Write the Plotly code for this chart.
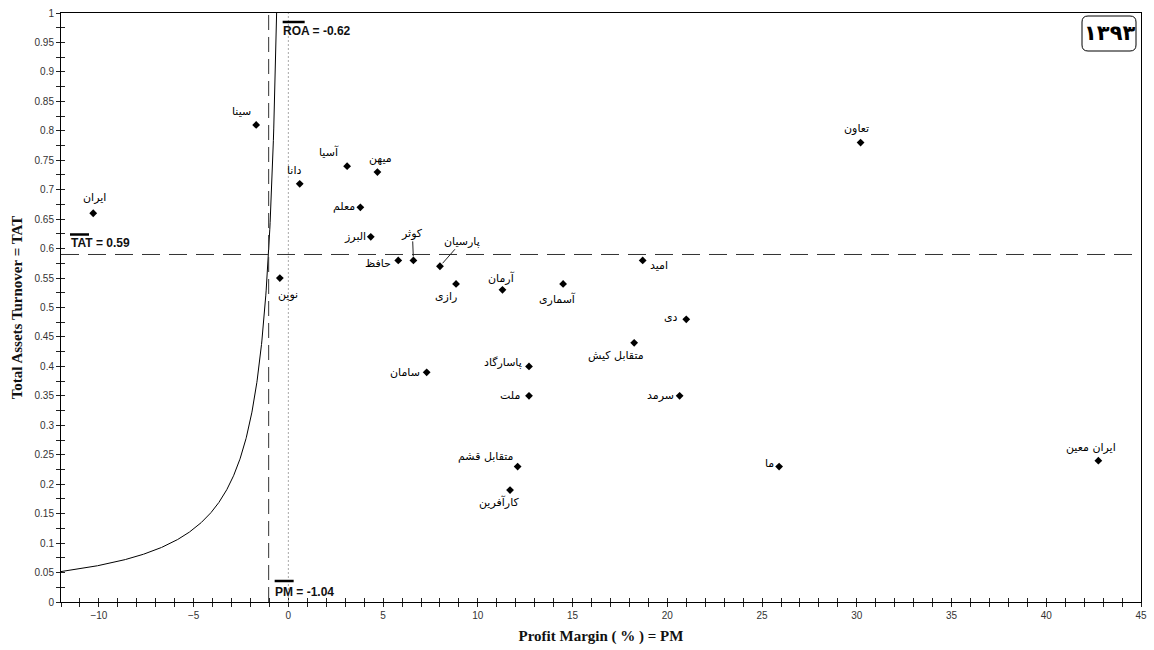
import numpy as np
import plotly.graph_objects as go

# ---------------- data ----------------
names = ["ایران", "سینا", "نوین", "دانا", "آسیا", "میهن", "معلم", "البرز",
         "حافظ", "کوثر", "پارسیان", "رازی", "آرمان", "آسماری", "امید", "دی",
         "تعاون", "متقابل کیش", "پاسارگاد", "سامان", "ملت", "سرمد",
         "متقابل قشم", "کارآفرین", "ما", "ایران معین"]
pm = [-10.3, -1.7, -0.45, 0.6, 3.1, 4.7, 3.8, 4.35,
      5.8, 6.6, 8.0, 8.85, 11.3, 14.5, 18.7, 21.0,
      30.2, 18.25, 12.7, 7.3, 12.7, 20.65,
      12.1, 11.7, 25.9, 42.75]
tat = [0.66, 0.81, 0.55, 0.71, 0.74, 0.73, 0.67, 0.62,
       0.58, 0.58, 0.57, 0.54, 0.53, 0.54, 0.58, 0.48,
       0.78, 0.44, 0.40, 0.39, 0.35, 0.35,
       0.23, 0.19, 0.23, 0.24]

ROA_MEAN = -0.62
PM_MEAN = -1.04
TAT_MEAN = 0.59
YEAR = "۱۳۹۳"

X_RANGE = [-12, 45]
Y_RANGE = [0, 1]

# label placement (pixel offsets from each point: dx right, dy up)
label_offsets = {
    "ایران": (1, 16), "سینا": (-15, 13), "نوین": (8, -16), "دانا": (-6, 13),
    "آسیا": (-18, 14), "میهن": (3, 14), "معلم": (-16, 1), "البرز": (-16, 0),
    "حافظ": (-20, -3), "رازی": (-10, -13), "آرمان": (-1, 12),
    "آسماری": (-6, -15), "امید": (16, -5), "دی": (-15, 2), "تعاون": (-4, 14),
    "متقابل کیش": (-18, -13), "پاسارگاد": (-26, 4), "سامان": (-22, 0),
    "ملت": (-19, 0), "سرمد": (-19, 0), "متقابل قشم": (-32, 10),
    "کارآفرین": (-11, -12), "ما": (-10, 3), "ایران معین": (-7, 13),
}
# labels joined to their point by a leader line (text offset: ax right, ay down)
leader_offsets = {"کوثر": (-1, -27), "پارسیان": (22, -25)}

# iso-ROA curve: TAT = ROA / PM
curve_pm = np.linspace(X_RANGE[0], ROA_MEAN / Y_RANGE[1], 600)
curve_tat = ROA_MEAN / curve_pm

LABEL_FONT = dict(family="DejaVu Sans", size=11, color="#000")
MEAN_FONT = dict(family="Liberation Sans", size=12, color="#111")
TICK_FONT = dict(family="Liberation Sans", size=10, color="#333")
TITLE_FONT = dict(family="Liberation Serif", size=15, color="#111")

fig = go.Figure()

fig.add_trace(go.Scatter(x=curve_pm, y=curve_tat, mode="lines",
                         line=dict(color="black", width=1),
                         hoverinfo="skip", showlegend=False))
fig.add_trace(go.Scatter(x=pm, y=tat, mode="markers", text=names,
                         marker=dict(symbol="diamond", size=6, color="black"),
                         showlegend=False))
# invisible trace so the overlay axes (inner tick halves) are drawn
fig.add_trace(go.Scatter(x=[None], y=[None], xaxis="x2", yaxis="y2",
                         showlegend=False, hoverinfo="skip"))

annotations = []
for n, x, y in zip(names, pm, tat):
    if n in leader_offsets:
        ax, ay = leader_offsets[n]
        annotations.append(dict(x=x, y=y, text=n, showarrow=True, arrowhead=0,
                                arrowwidth=1, arrowcolor="#222", ax=ax, ay=ay,
                                standoff=4, font=LABEL_FONT))
    else:
        dx, dy = label_offsets[n]
        annotations.append(dict(x=x, y=y, text=n, showarrow=False,
                                xshift=dx, yshift=dy, font=LABEL_FONT))

# mean labels
annotations += [
    dict(x=PM_MEAN, y=Y_RANGE[1], text="<b>ROA = %.2f</b>" % ROA_MEAN,
         xanchor="left", yanchor="middle", xshift=12, yshift=-18,
         showarrow=False, font=MEAN_FONT),
    dict(x=X_RANGE[0], y=TAT_MEAN, text="<b>TAT = %.2f</b>" % TAT_MEAN,
         xanchor="left", yanchor="middle", xshift=8, yshift=11,
         showarrow=False, font=MEAN_FONT),
    dict(x=PM_MEAN, y=Y_RANGE[0], text="<b>PM = %.2f</b>" % PM_MEAN,
         xanchor="left", yanchor="middle", xshift=4, yshift=10,
         showarrow=False, font=MEAN_FONT),
    dict(x=1, y=1, xref="paper", yref="paper", text="<b>" + YEAR + "</b>",
         xanchor="center", yanchor="middle", xshift=-32, yshift=-20,
         showarrow=False, font=dict(family="DejaVu Sans", size=21, color="black")),
]

shapes = [
    dict(type="line", xref="x domain", yref="y", x0=0, x1=1, y0=TAT_MEAN, y1=TAT_MEAN,
         line=dict(color="#333", width=1, dash="18px,9px")),
    dict(type="line", xref="x", yref="y domain", x0=PM_MEAN, x1=PM_MEAN, y0=0, y1=1,
         line=dict(color="#333", width=1, dash="15px,7px")),
    dict(type="line", xref="x", yref="y domain", x0=0, x1=0, y0=0, y1=1,
         line=dict(color="#aaa", width=1, dash="2px,2px")),
    # overlines of the mean symbols
    dict(type="line", xref="x", yref="y", xsizemode="pixel", ysizemode="pixel",
         xanchor=PM_MEAN, yanchor=Y_RANGE[1], x0=14, x1=36, y0=-9, y1=-9,
         line=dict(color="black", width=2.5)),
    dict(type="line", xref="x", yref="y", xsizemode="pixel", ysizemode="pixel",
         xanchor=X_RANGE[0], yanchor=TAT_MEAN, x0=9, x1=28, y0=20, y1=20,
         line=dict(color="black", width=2.5)),
    dict(type="line", xref="x", yref="y", xsizemode="pixel", ysizemode="pixel",
         xanchor=PM_MEAN, yanchor=Y_RANGE[0], x0=6, x1=25, y0=21, y1=21,
         line=dict(color="black", width=2.5)),
    # rounded badge box
    dict(type="path", xref="paper", yref="paper", xsizemode="pixel", ysizemode="pixel",
         xanchor=1, yanchor=1,
         path="M -53,-3 L -11,-3 Q -5,-3 -5,-9 L -5,-32 Q -5,-38 -11,-38 L -53,-38 "
              "Q -59,-38 -59,-32 L -59,-9 Q -59,-3 -53,-3 Z",
         line=dict(color="black", width=1)),
]

axis_common = dict(showgrid=False, zeroline=False, ticklen=4, tickcolor="#222",
                   tickwidth=1)

fig.update_layout(
    width=1154, height=650,
    margin=dict(l=61, r=7, t=12, b=48),
    paper_bgcolor="white", plot_bgcolor="white",
    xaxis=dict(range=X_RANGE, dtick=5, tick0=0, ticks="outside",
               showline=True, linecolor="black", linewidth=1, mirror=True,
               tickfont=TICK_FONT,
               minor=dict(dtick=1, ticks="outside", ticklen=4, tickcolor="#222"),
               title=dict(text="<b>Profit Margin ( % ) = PM</b>", font=TITLE_FONT,
                          standoff=10),
               **axis_common),
    yaxis=dict(range=Y_RANGE, dtick=0.05, tick0=0, ticks="outside",
               showline=True, linecolor="black", linewidth=1, mirror=True,
               tickfont=TICK_FONT,
               minor=dict(dtick=0.025, ticks="outside", ticklen=4, tickcolor="#222"),
               title=dict(text="<b>Total Assets Turnover = TAT</b>", font=TITLE_FONT,
                          standoff=8),
               **axis_common),
    xaxis2=dict(range=X_RANGE, overlaying="x", anchor="y", side="bottom",
                dtick=5, tick0=0, ticks="inside", showticklabels=False,
                showline=False,
                minor=dict(dtick=1, ticks="inside", ticklen=4, tickcolor="#222"),
                **axis_common),
    yaxis2=dict(range=Y_RANGE, overlaying="y", anchor="x", side="left",
                dtick=0.05, tick0=0, ticks="inside", showticklabels=False,
                showline=False,
                minor=dict(dtick=0.025, ticks="inside", ticklen=4, tickcolor="#222"),
                **axis_common),
    annotations=annotations,
    shapes=shapes,
    showlegend=False,
)

fig.write_html("out.html")
